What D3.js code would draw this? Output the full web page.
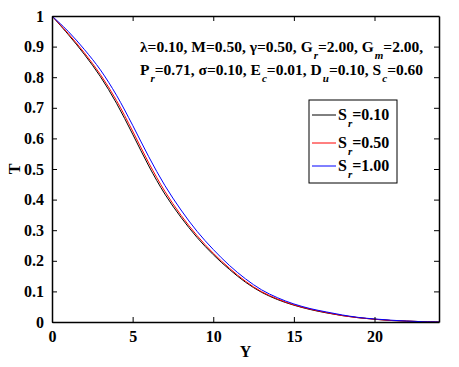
<!DOCTYPE html>
<html lang="en">
<head>
  <meta charset="UTF-8">
  <title>T profile</title>
  <script src="https://d3js.org/d3.v7.min.js"></script>
  <style>
    body { margin: 0; background: #fff; }
    text { font-family: "Liberation Serif", "Times New Roman", serif; font-weight: bold; }
  </style>
</head>
<body>
<script>
  // Y positions and T values for each Sr
  const yVals = [0, 1, 2, 3, 4, 5, 6, 7, 8, 9, 10, 11, 12, 13, 14, 15, 16, 17, 18, 19, 20, 21, 22, 23, 24];
  const tSr010 = [1.000, 0.940, 0.875, 0.802, 0.715, 0.614, 0.510, 0.418, 0.342, 0.276, 0.220, 0.172, 0.130, 0.097, 0.073, 0.055, 0.041, 0.030, 0.021, 0.014, 0.009, 0.005, 0.003, 0.001, 0.000];
  const tSr050 = [1.000, 0.943, 0.880, 0.809, 0.724, 0.624, 0.520, 0.427, 0.349, 0.282, 0.225, 0.176, 0.133, 0.099, 0.075, 0.056, 0.042, 0.031, 0.021, 0.014, 0.009, 0.005, 0.003, 0.001, 0.000];
  const tSr100 = [1.000, 0.950, 0.891, 0.824, 0.741, 0.643, 0.540, 0.446, 0.366, 0.296, 0.237, 0.185, 0.141, 0.105, 0.079, 0.059, 0.044, 0.033, 0.023, 0.015, 0.010, 0.006, 0.003, 0.001, 0.000];

  const seriesNames = ["0.10", "0.50", "1.00"];
  const seriesColors = ["#000000", "#ff0000", "#0000ff"];
  const seriesData = [tSr010, tSr050, tSr100];

  const xTicks = [0, 5, 10, 15, 20];
  const yTicks = [0, 0.1, 0.2, 0.3, 0.4, 0.5, 0.6, 0.7, 0.8, 0.9, 1];

  const W = 459, H = 367;
  const margin = { top: 16, right: 20, bottom: 45, left: 52 };
  const width = W - margin.left - margin.right;
  const height = H - margin.top - margin.bottom;

  const svg = d3.select("body").append("svg")
    .attr("width", W)
    .attr("height", H);

  const g = svg.append("g")
    .attr("transform", "translate(" + margin.left + "," + margin.top + ")");

  const x = d3.scaleLinear().domain([0, 24]).range([0, width]);
  const y = d3.scaleLinear().domain([0, 1]).range([height, 0]);

  // curves
  const line = d3.line()
    .x((d, i) => x(yVals[i]))
    .y(d => y(d))
    .curve(d3.curveCatmullRom.alpha(0.5));

  seriesData.forEach((s, k) => {
    g.append("path")
      .datum(s)
      .attr("fill", "none")
      .attr("stroke", seriesColors[k])
      .attr("stroke-width", 1)
      .attr("d", line);
  });

  // axes, ticks inward on all sides
  const fmtY = d => d === 0 ? "0" : d === 1 ? "1" : d3.format(".1f")(d);

  g.append("g")
    .attr("transform", "translate(0," + height + ")")
    .call(d3.axisBottom(x).tickValues(xTicks).tickSizeInner(-5).tickSizeOuter(0).tickPadding(9));
  g.append("g")
    .call(d3.axisLeft(y).tickValues(yTicks).tickFormat(fmtY).tickSizeInner(-5).tickSizeOuter(0).tickPadding(8));
  g.append("g")
    .call(d3.axisTop(x).tickValues(xTicks).tickSizeInner(-5).tickSizeOuter(0).tickFormat(""));
  g.append("g")
    .attr("transform", "translate(" + width + ",0)")
    .call(d3.axisRight(y).tickValues(yTicks).tickSizeInner(-5).tickSizeOuter(0).tickFormat(""));

  g.selectAll(".domain").attr("stroke", "#000").attr("stroke-width", 1.5);
  g.selectAll(".tick line").attr("stroke", "#000");
  g.selectAll(".tick text")
    .attr("fill", "#000")
    .style("font-size", "16px")
    .style("font-family", "'Liberation Serif', serif")
    .style("font-weight", "bold");

  // axis labels
  svg.append("text")
    .attr("x", margin.left + width / 2)
    .attr("y", 357)
    .attr("text-anchor", "middle")
    .style("font-size", "16px")
    .text("Y");

  svg.append("text")
    .attr("transform", "translate(20," + (margin.top + height / 2) + ") rotate(-90)")
    .attr("text-anchor", "middle")
    .style("font-size", "16px")
    .text("T");

  // parameter annotation
  function addSub(sel, base, sub, rest) {
    sel.append("tspan").text(base);
    sel.append("tspan").attr("dy", 7).attr("dx", 1).style("font-size", "11px").style("font-style", "italic").text(sub);
    sel.append("tspan").attr("dy", -7).text(rest);
  }

  const line1 = svg.append("text").attr("x", 140).attr("y", 52).style("font-size", "15.5px");
  line1.append("tspan").text("\u03bb=0.10, M=0.50, \u03b3=0.50, ");
  addSub(line1, "G", "r", "=2.00, ");
  addSub(line1, "G", "m", "=2.00,");

  const line2 = svg.append("text").attr("x", 140).attr("y", 75).style("font-size", "15.5px");
  addSub(line2, "P", "r", "=0.71, \u03c3=0.10, ");
  addSub(line2, "E", "c", "=0.01, ");
  addSub(line2, "D", "u", "=0.10, ");
  addSub(line2, "S", "c", "=0.60");

  // legend
  const legend = svg.append("g").attr("transform", "translate(309,100)");
  legend.append("rect")
    .attr("width", 88)
    .attr("height", 83)
    .attr("fill", "#fff")
    .attr("stroke", "#000")
    .attr("stroke-width", 1);

  const rowY = [15, 43, 66];
  seriesNames.forEach((name, k) => {
    const row = legend.append("g").attr("transform", "translate(0," + rowY[k] + ")");
    row.append("line")
      .attr("x1", 3).attr("x2", 27)
      .attr("y1", 0).attr("y2", 0)
      .attr("stroke", seriesColors[k]);
    const t = row.append("text").attr("x", 29).attr("y", 5).style("font-size", "16px");
    addSub(t, "S", "r", "=" + name);
  });
</script>
</body>
</html>
